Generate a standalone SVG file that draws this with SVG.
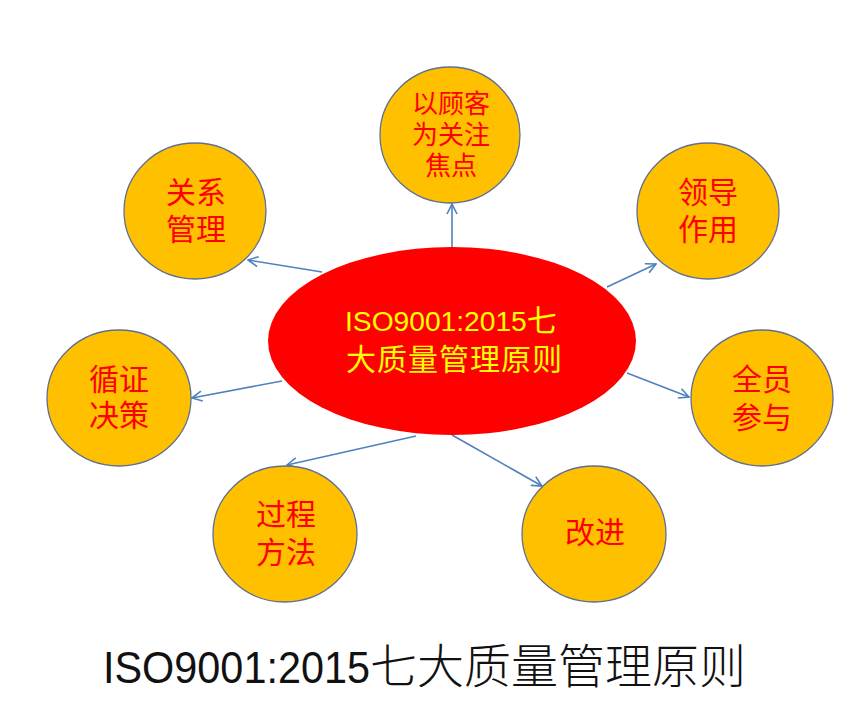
<svg xmlns="http://www.w3.org/2000/svg" width="865" height="708" viewBox="0 0 865 708">
<style>
.node{fill:#FFC000;stroke:#5F6F8F;stroke-width:1.3}
.lbl{font-family:"Liberation Sans","Noto Sans CJK SC",sans-serif;fill:#FF0000;font-size:30px;text-anchor:middle}
.conn{stroke:#4F81BD;stroke-width:1.6;fill:none;marker-end:url(#arr)}
</style>
<defs>
<marker id="arr" viewBox="0 0 12 12" refX="11" refY="6" markerWidth="12" markerHeight="12" markerUnits="userSpaceOnUse" orient="auto">
<path d="M1,1 L11,6 L1,11" fill="none" stroke="#4F81BD" stroke-width="1.6"/>
</marker>
</defs>
<rect width="865" height="708" fill="#FFFFFF"/>
<g id="connectors">
<line class="conn" x1="452" y1="247" x2="452" y2="204"/>
<line class="conn" x1="322" y1="272" x2="248" y2="260"/>
<line class="conn" x1="607" y1="287" x2="656" y2="264"/>
<line class="conn" x1="627" y1="373" x2="689" y2="397"/>
<line class="conn" x1="282" y1="381" x2="192" y2="398"/>
<line class="conn" x1="416" y1="436" x2="287" y2="465"/>
<line class="conn" x1="452" y1="435" x2="542" y2="486"/>
</g>
<g id="center">
<ellipse cx="452" cy="341" rx="184" ry="94" fill="#FF0000"/>
<text font-family="'Liberation Sans','Noto Sans CJK SC',sans-serif" font-size="28.2" fill="#FFFF00" x="345" y="331">ISO9001:2015<tspan font-size="30">七</tspan><tspan x="346" y="370" font-size="30" letter-spacing="1">大质量管理原则</tspan></text>
</g>
<g id="n-customer">
<ellipse class="node" cx="450" cy="135" rx="70" ry="68"/>
<text class="lbl" style="font-size:26px" x="451" y="113">以顾客<tspan x="451" y="144">为关注</tspan><tspan x="451" y="175">焦点</tspan></text>
</g>
<g id="n-relation">
<ellipse class="node" cx="195" cy="211" rx="71" ry="68"/>
<text class="lbl" x="196" y="203">关系<tspan x="196" y="240">管理</tspan></text>
</g>
<g id="n-leader">
<ellipse class="node" cx="708" cy="211" rx="71" ry="68"/>
<text class="lbl" x="708" y="203">领导<tspan x="708" y="240">作用</tspan></text>
</g>
<g id="n-people">
<ellipse class="node" cx="762" cy="398" rx="71" ry="68"/>
<text class="lbl" x="762" y="390">全员<tspan x="762" y="428">参与</tspan></text>
</g>
<g id="n-evidence">
<ellipse class="node" cx="119" cy="398" rx="72" ry="68"/>
<text class="lbl" x="119" y="390">循证<tspan x="119" y="426">决策</tspan></text>
</g>
<g id="n-process">
<ellipse class="node" cx="285" cy="534" rx="72" ry="68"/>
<text class="lbl" x="286" y="525">过程<tspan x="286" y="563">方法</tspan></text>
</g>
<g id="n-improve">
<ellipse class="node" cx="594" cy="534" rx="72" ry="68"/>
<text class="lbl" x="595" y="543">改进</text>
</g>
<g id="title">
<text font-family="'Liberation Sans','Noto Sans CJK SC',sans-serif" font-size="44" fill="#111111" x="103" y="683"><tspan textLength="267" lengthAdjust="spacingAndGlyphs">ISO9001:2015</tspan><tspan font-size="47" font-weight="300">七大质量管理原则</tspan></text>
</g>
</svg>
